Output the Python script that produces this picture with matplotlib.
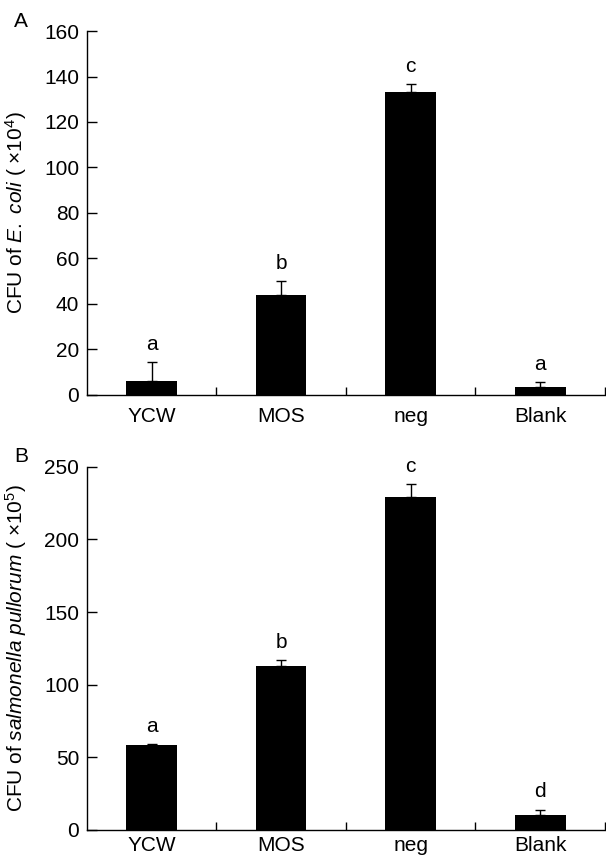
import matplotlib
matplotlib.use("Agg")
import matplotlib.pyplot as plt
import numpy as np

plt.rcParams['font.family'] = ['Liberation Sans', 'DejaVu Sans']
plt.rcParams['mathtext.fontset'] = 'custom'
plt.rcParams['mathtext.rm'] = 'Liberation Sans'
plt.rcParams['mathtext.it'] = 'Liberation Sans:italic'

categories = ["YCW", "MOS", "neg", "Blank"]
ecoli_vals = [6, 44, 133, 3.5]
ecoli_err = [8.5, 6, 3.5, 2]
ecoli_letters = ["a", "b", "c", "a"]
salm_vals = [58.5, 113, 229, 10]
salm_err = [0.5, 4, 9, 4]
salm_letters = ["a", "b", "c", "d"]

FS = 15

fig = plt.figure(figsize=(6.06, 8.59), dpi=100)
axA = fig.add_axes([0.1431, 0.5402, 0.8553, 0.4237])
axB = fig.add_axes([0.1431, 0.0338, 0.8553, 0.4229])

def draw(ax, vals, err, letters, ymax, yticks, ylabel, xpad):
    x = np.arange(1, len(categories) + 1)
    ax.bar(x, vals, width=0.39, color='black', zorder=2)
    ax.errorbar(x, vals, yerr=[np.zeros(len(vals)), err], fmt='none',
                ecolor='black', elinewidth=1, capsize=3.6, capthick=1, zorder=1)
    for xi, v, e, l in zip(x, vals, err, letters):
        ax.annotate(l, (xi, v + e), xytext=(0, 6), textcoords='offset points',
                    ha='center', va='bottom', fontsize=FS)
    ax.set_xlim(0.5, 4.5)
    ax.set_ylim(0, ymax)
    ax.set_yticks(yticks)
    ax.set_xticks(x)
    ax.set_xticklabels(categories, fontsize=FS)
    ax.set_xticks([1.5, 2.5, 3.5, 4.5], minor=True)
    ax.tick_params(axis='x', which='major', length=0, pad=xpad)
    ax.tick_params(axis='x', which='minor', direction='in', length=6, width=1)
    ax.tick_params(axis='y', direction='in', length=7, width=1, labelsize=FS, pad=5.5)
    ax.spines['top'].set_visible(False)
    ax.spines['right'].set_visible(False)
    ax.spines['left'].set_linewidth(1)
    ax.spines['bottom'].set_linewidth(1)
    ax.set_ylabel(ylabel, fontsize=FS)
    ax.yaxis.set_label_coords(-0.111, 0.5)

draw(axA, ecoli_vals, ecoli_err, ecoli_letters, 160, range(0, 161, 20),
     r"CFU of $\it{E.\ coli}$ ( $\times$10$^{4}$)", 8.5)
draw(axB, salm_vals, salm_err, salm_letters, 250, range(0, 251, 50),
     r"CFU of $\it{salmonella\ pullorum}$ ( $\times$10$^{5}$)", 4.5)

fig.text(14 / 606, 1 - 21.5 / 859, "A", fontsize=FS, ha='left', va='center')
fig.text(14 / 606, 1 - 457 / 859, "B", fontsize=FS, ha='left', va='center')

fig.savefig("out.png", dpi=100)
